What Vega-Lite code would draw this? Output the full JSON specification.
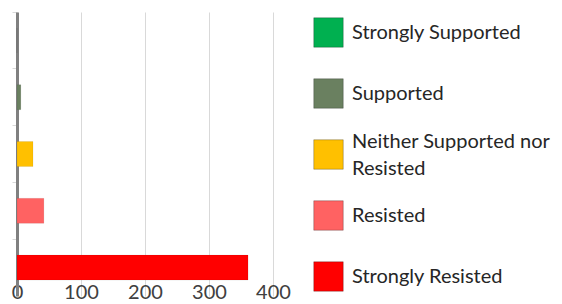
{
  "$schema": "https://vega.github.io/schema/vega-lite/v6.json",
  "autosize": {"type": "none"},
  "width": 256,
  "height": 284,
  "padding": {"left": 17, "top": 12, "right": 289, "bottom": 8},
  "background": "white",
  "data": {
    "values": [
      {"response": "Strongly Supported", "count": 0},
      {"response": "Supported", "count": 6},
      {"response": "Neither Supported nor Resisted", "count": 25},
      {"response": "Resisted", "count": 42},
      {"response": "Strongly Resisted", "count": 361}
    ]
  },
  "mark": {"type": "bar", "stroke": "#00000022", "strokeWidth": 0.5},
  "encoding": {
    "y": {
      "field": "response",
      "type": "nominal",
      "sort": ["Strongly Supported", "Supported", "Neither Supported nor Resisted", "Resisted", "Strongly Resisted"],
      "scale": {"paddingInner": 0.56, "paddingOuter": 0.28},
      "axis": {
        "title": null,
        "labels": false,
        "domainColor": "#808080",
        "domainWidth": 3,
        "ticks": true,
        "tickColor": "#D9D9D9",
        "tickSize": 5,
        "bandPosition": -0.636,
        "grid": false
      }
    },
    "x": {
      "field": "count",
      "type": "quantitative",
      "scale": {"domain": [0, 400], "nice": false},
      "axis": {
        "title": null,
        "values": [0, 100, 200, 300, 400],
        "domain": false,
        "ticks": false,
        "tickSize": 0,
        "labelPadding": -14,
        "labelFont": "Lato",
        "labelFontSize": 20,
        "labelColor": "#404040",
        "labelFlush": false,
        "grid": true,
        "gridColor": "#D9D9D9",
        "gridWidth": 1
      }
    },
    "color": {
      "field": "response",
      "type": "nominal",
      "sort": ["Strongly Supported", "Supported", "Neither Supported nor Resisted", "Resisted", "Strongly Resisted"],
      "scale": {
        "domain": ["Strongly Supported", "Supported", "Neither Supported nor Resisted", "Resisted", "Strongly Resisted"],
        "range": ["#00B050", "#6A8060", "#FFC000", "#FF6262", "#FF0000"]
      },
      "legend": {
        "title": null,
        "orient": "right",
        "offset": 35,
        "padding": 5,
        "symbolType": "square",
        "symbolSize": 870,
        "symbolStrokeWidth": 1,
        "symbolStrokeColor": "#00000040",
        "labelFont": "Lato",
        "labelFontSize": 20,
        "labelColor": "#262626",
        "labelOffset": 8,
        "labelLimit": 300,
        "labelExpr": "datum.label == 'Neither Supported nor Resisted' ? ['Neither Supported nor', 'Resisted'] : datum.label",
        "gridAlign": "all",
        "rowPadding": 13,
        "encode": {
          "labels": {
            "update": {
              "lineHeight": {"value": 27},
              "dy": {"signal": "datum.value == 'Neither Supported nor Resisted' ? -13 : 0"}
            }
          }
        }
      }
    }
  },
  "config": {"view": {"stroke": null}}
}
